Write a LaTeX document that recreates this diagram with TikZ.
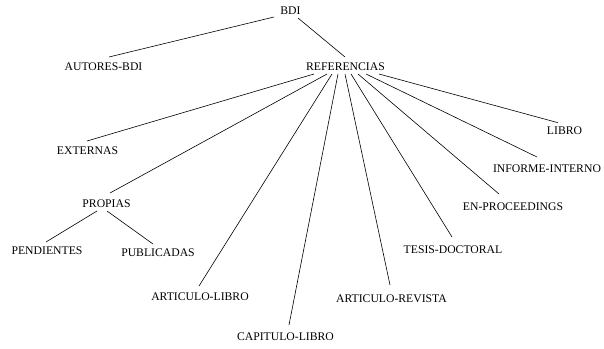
\documentclass[tikz,border=0pt]{standalone}
\usepackage{fontspec}
\setmainfont{Liberation Serif}
\usetikzlibrary{calc}
\begin{document}
\begin{tikzpicture}[x=1pt,y=-1pt,
  label/.style={inner sep=0pt,font=\fontsize{11.7}{14}\selectfont},
  branch/.style={line width=0.6pt}]
\useasboundingbox (0,0) rectangle (604,348);
% tree nodes
\node[label] (bdi)     at (290.5,11)  {BDI};
\node[label] (autores) at (103.5,66.7) {AUTORES-BDI};
\node[label] (ref)     at (345.5,66.7) {REFERENCIAS};
\node[label] (ext)     at (87.5,151)  {EXTERNAS};
\node[label] (prop)    at (106.5,204) {PROPIAS};
\node[label] (pend)    at (47,251)    {PENDIENTES};
\node[label] (publ)    at (158,253)   {PUBLICADAS};
\node[label] (artlib)  at (200,297)   {ARTICULO-LIBRO};
\node[label] (cap)     at (285.5,337) {CAPITULO-LIBRO};
\node[label] (artrev)  at (391.5,299) {ARTICULO-REVISTA};
\node[label] (tesis)   at (453,250)   {TESIS-DOCTORAL};
\node[label] (enproc)  at (513,207)   {EN-PROCEEDINGS};
\node[label] (inf)     at (547,169)   {INFORME-INTERNO};
\node[label] (libro)   at (564.5,131) {LIBRO};
% branches: leave below the parent label, arrive above the child label
\draw[branch] ($(bdi)+(-16.5,6)$) -- ($(autores)+(5.5,-9.7)$);
\draw[branch] ($(bdi)+(7.5,7)$)   -- ($(ref)+(-0.5,-9.7)$);
\draw[branch] ($(ref)+(-31.5,7.3)$) -- ($(ext)+(-0.5,-10)$);
\draw[branch] ($(ref)+(-18.5,7.3)$) -- ($(prop)+(3.5,-11)$);
\draw[branch] ($(ref)+(-13.5,7.3)$) -- ($(artlib)+(-1,-11)$);
\draw[branch] ($(ref)+(-7.5,7.3)$)  -- ($(cap)+(3.5,-12)$);
\draw[branch] ($(ref)+(-0.5,7.3)$)  -- ($(artrev)+(-1.5,-14)$);
\draw[branch] ($(ref)+(5.5,7.3)$)   -- ($(tesis)+(-1,-13)$);
\draw[branch] ($(ref)+(12.5,7.3)$)  -- ($(enproc)+(-14,-13)$);
\draw[branch] ($(ref)+(20.5,7.3)$)  -- ($(inf)+(-10,-12)$);
\draw[branch] ($(ref)+(33.5,7.3)$)  -- ($(libro)+(-6.5,-8.3)$);
\draw[branch] ($(prop)+(-9.5,7)$)   -- ($(pend)+(-1,-9)$);
\draw[branch] ($(prop)+(0.5,7)$)    -- ($(publ)+(-5,-9)$);
\end{tikzpicture}
\end{document}
